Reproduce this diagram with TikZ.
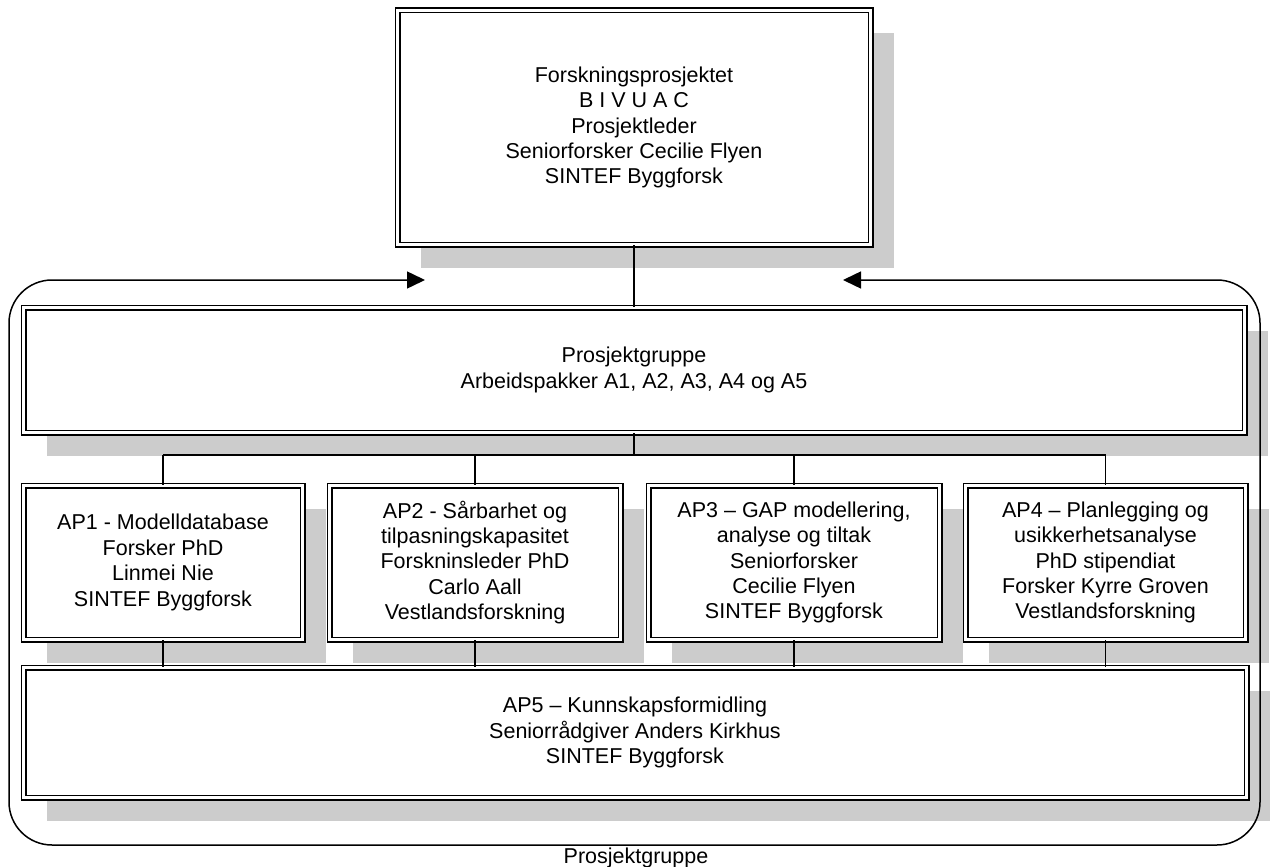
\documentclass[tikz,border=0pt]{standalone}
\usepackage{fontspec}
\setmainfont{Liberation Sans}
\usetikzlibrary{arrows.meta,shadows}
\begin{document}
\begin{tikzpicture}[x=1pt,y=-1pt,line width=1.5pt,
  box/.style={draw,double,double distance=3pt,line width=1.5pt,fill=white,align=center,inner sep=0pt,
    font=\fontsize{21.5}{25.4}\selectfont,
    drop shadow={shadow xshift=23pt,shadow yshift=-23pt,fill=black!20,opacity=1}},
  link/.style={draw,line width=1.5pt},
  bothtips/.style={arrows={Triangle[length=18pt,width=17pt]-Triangle[length=18pt,width=17pt]}}]
\useasboundingbox (0,0) rectangle (1272,867);
\node[box,minimum width=473pt,minimum height=234pt] (top) at (634,127.5)
  {Forskningsprosjektet\\B I V U A C\\Prosjektleder\\Seniorforsker Cecilie Flyen\\SINTEF Byggforsk};
\node[box,minimum width=1221pt,minimum height=125pt] (pg) at (634,370)
  {Prosjektgruppe\\Arbeidspakker A1, A2, A3, A4 og A5};
\node[box,minimum width=279pt,minimum height=154pt] (ap1) at (163,562.5)
  {AP1 - Modelldatabase\\Forsker PhD\\Linmei Nie\\SINTEF Byggforsk};
\node[box,minimum width=291pt,minimum height=154pt] (ap2) at (475,562.5)
  {AP2 - Sårbarhet og\\tilpasningskapasitet\\Forskninsleder PhD\\Carlo Aall\\Vestlandsforskning};
\node[box,minimum width=291pt,minimum height=154pt] (ap3) at (794,562.5)
  {AP3 – GAP modellering,\\analyse og tiltak\\Seniorforsker\\Cecilie Flyen\\SINTEF Byggforsk};
\node[box,minimum width=280pt,minimum height=154pt] (ap4) at (1105.5,562.5)
  {AP4 – Planlegging og\\usikkerhetsanalyse\\PhD stipendiat\\Forsker Kyrre Groven\\Vestlandsforskning};
\node[box,minimum width=1223pt,minimum height=130pt] (ap5) at (635,732.5)
  {AP5 – Kunnskapsformidling\\Seniorrådgiver Anders Kirkhus\\SINTEF Byggforsk};
\coordinate (bus) at (634,455);
% group frame
\coordinate (gl) at (425,280);
\coordinate (gr) at (843,280);
\draw[rounded corners=43pt,bothtips] (gl) -- (9,280) -- (9,845) -- (1260,845) -- (1260,280) -- (gr);
\node[font=\fontsize{21.5}{25.4}\selectfont,inner sep=0pt,anchor=base] (lbl) at (636,863) {Prosjektgruppe};
% connectors
\draw[link] (top.south) -- (pg.north);
\draw[link] (pg.south) -- (bus);
\draw[link] (ap1.north |- bus) -- (ap4.north |- bus);
\foreach \a in {ap1,ap2,ap3,ap4}{
  \draw[link] (\a.north) -- (\a.north |- bus);
  \draw[link] (\a.south) -- (\a.south |- ap5.north);
}
\end{tikzpicture}
\end{document}
